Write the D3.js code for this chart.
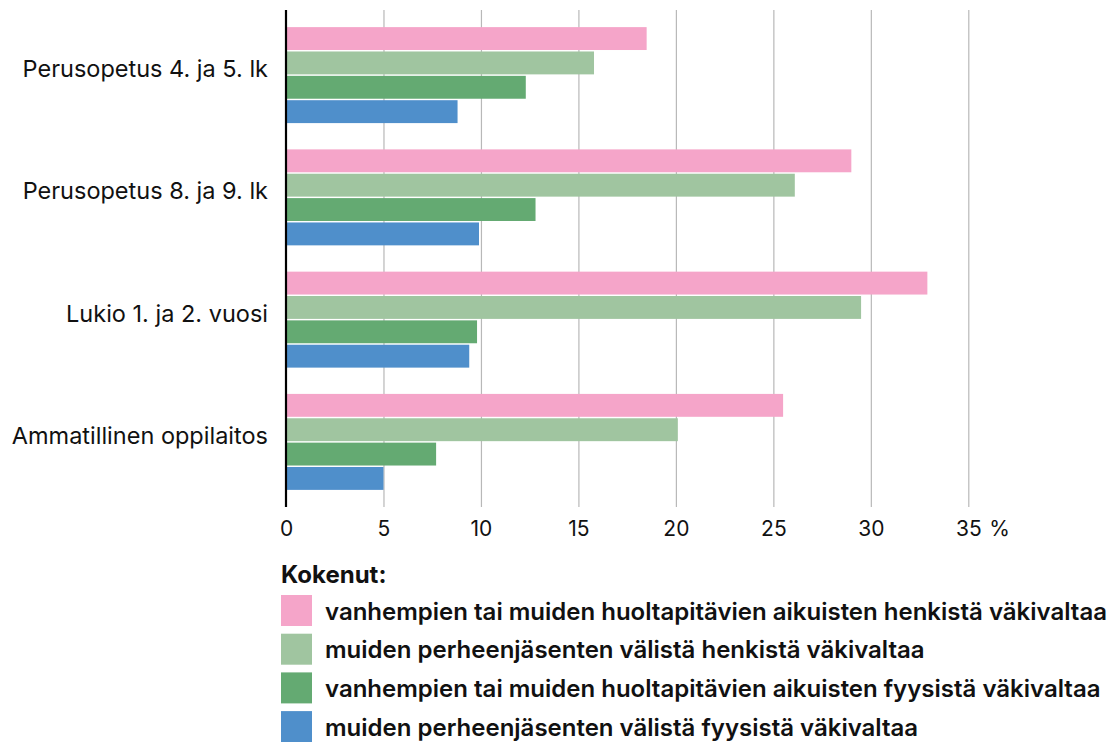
<!DOCTYPE html>
<html><head><meta charset="utf-8">
<script src="https://cdn.jsdelivr.net/npm/d3@7"></script>
<style>
body{margin:0;background:#fff}
svg text{font-family:Inter,"Noto Sans",sans-serif;fill:#111}
</style>
</head><body>
<svg id="chart" width="1116" height="742"></svg>
<script>
const categories = ["Perusopetus 4. ja 5. lk", "Perusopetus 8. ja 9. lk", "Lukio 1. ja 2. vuosi", "Ammatillinen oppilaitos"];
const seriesNames = [
  "vanhempien tai muiden huoltapitävien aikuisten henkistä väkivaltaa",
  "muiden perheenjäsenten välistä henkistä väkivaltaa",
  "vanhempien tai muiden huoltapitävien aikuisten fyysistä väkivaltaa",
  "muiden perheenjäsenten välistä fyysistä väkivaltaa"
];
const parentsMental   = [18.5, 29.0, 32.9, 25.5];
const othersMental    = [15.8, 26.1, 29.5, 20.1];
const parentsPhysical = [12.3, 12.8, 9.8, 7.7];
const othersPhysical  = [8.8, 9.9, 9.4, 5.0];
const xTicks = [0, 5, 10, 15, 20, 25, 30, 35];
const legendTitle = "Kokenut:";
const unitLabel = "%";
const colors = ["#f5a5c9", "#a0c5a0", "#64aa72", "#4f8fcb"];

const seriesValues = [parentsMental, othersMental, parentsPhysical, othersPhysical];
const svg = d3.select("#chart");

const x = d3.scaleLinear().domain([0, 35]).range([286, 968.3]);
const y0 = d3.scaleBand().domain(categories).range([10, 507]).paddingInner(0.215).paddingOuter(0.14);
const y1 = d3.scaleBand().domain(d3.range(4)).range([0, y0.bandwidth()]).paddingInner(0.06).paddingOuter(0);

// gridlines
const grid = svg.append("g").attr("transform", "translate(0,507)")
  .call(d3.axisBottom(x).tickValues(xTicks.slice(1)).tickSize(-497).tickFormat(""));
grid.select(".domain").remove();
grid.selectAll("line").attr("stroke", "#b8b8b8").attr("stroke-width", 1.2);

// bars
const groups = svg.append("g").selectAll("g").data(categories).join("g")
  .attr("transform", d => `translate(0,${y0(d)})`);
groups.selectAll("rect").data((d, i) => seriesValues.map((s, k) => ({k, v: s[i]}))).join("rect")
  .attr("x", x(0))
  .attr("y", d => y1(d.k))
  .attr("height", y1.bandwidth())
  .attr("width", d => x(d.v) - x(0))
  .attr("fill", d => colors[d.k]);

// zero axis line
svg.append("line").attr("x1", x(0)).attr("x2", x(0)).attr("y1", 10).attr("y2", 507)
  .attr("stroke", "#000").attr("stroke-width", 2.2);

// tick labels
const xa = svg.append("g").attr("transform", "translate(0,507)")
  .call(d3.axisBottom(x).tickValues(xTicks).tickSize(0).tickPadding(14).tickFormat(d => d));
xa.select(".domain").remove();
xa.selectAll("text").attr("font-size", 21).attr("fill", "#111")
  .style("font-family", 'Inter,"Noto Sans",sans-serif');
svg.append("text").attr("x", x(35) + 21).attr("y", 535.5).attr("font-size", 21).text(unitLabel);

// category labels
svg.append("g").selectAll("text").data(categories).join("text")
  .attr("x", 268)
  .attr("y", d => y0(d) + y0.bandwidth() / 2 + 2)
  .attr("text-anchor", "end")
  .attr("font-size", 23.5)
  .text(d => d);

// legend
svg.append("text").attr("x", 281).attr("y", 582.5).attr("font-size", 24).attr("font-weight", 700).text(legendTitle);
const lg = svg.append("g").selectAll("g").data(seriesNames).join("g")
  .attr("transform", (d, i) => `translate(281,${595 + i * 38.7})`);
lg.append("rect").attr("width", 31).attr("height", 31).attr("fill", (d, i) => colors[i]);
lg.append("text").attr("x", 44).attr("y", 24.5).attr("font-size", 24).attr("font-weight", 600).text(d => d);
</script>
</body></html>
